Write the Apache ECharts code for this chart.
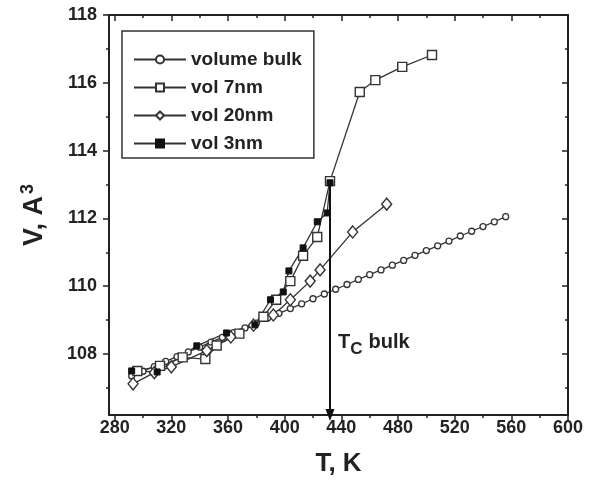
<!DOCTYPE html>
<html>
<head>
<meta charset="utf-8">
<script src="https://cdn.jsdelivr.net/npm/echarts@6/dist/echarts.min.js"></script>
<style>
  body { margin: 0; background: #fff; }
  #main { width: 592px; height: 482px; }
</style>
</head>
<body>
<div id="main"></div>
<script>
// data
const tempBulk = [292, 300, 308, 316, 324, 332, 340, 348, 356, 364, 372, 380, 388, 396, 404, 412, 420,
                  428, 436, 444, 452, 460, 468, 476, 484, 492, 500, 508, 516, 524, 532, 540, 548, 556];
const volBulk  = [107.35, 107.49, 107.63, 107.78, 107.92, 108.06, 108.20, 108.35, 108.49, 108.63, 108.77,
                  108.91, 109.06, 109.20, 109.34, 109.48, 109.63, 109.77, 109.91, 110.05, 110.20, 110.34,
                  110.48, 110.62, 110.76, 110.91, 111.05, 111.19, 111.33, 111.48, 111.62, 111.76, 111.90, 112.05];

const temp7nm = [296, 312, 328, 344, 352, 368, 385, 394, 404, 413, 423, 432, 453, 464, 483, 504];
const vol7nm  = [107.5, 107.65, 107.9, 107.85, 108.25, 108.6, 109.1, 109.6, 110.15, 110.9, 111.45, 113.1,
                 115.73, 116.08, 116.47, 116.82];

const temp20nm = [293, 308, 320, 345, 362, 378, 392, 404, 418, 425, 448, 472];
const vol20nm  = [107.12, 107.45, 107.62, 108.1, 108.5, 108.85, 109.15, 109.6, 110.15, 110.48, 111.6, 112.42];

const temp3nm = [292, 310, 338, 359, 379, 390, 399, 403, 413, 423, 430, 432];
const vol3nm  = [107.5, 107.47, 108.24, 108.62, 108.86, 109.6, 109.83, 110.45, 111.13, 111.9, 112.16, 113.05];

const tcBulk = 432;
const tcArrowTop = 113.1;

const xMajor = [280, 320, 360, 400, 440, 480, 520, 560, 600];
const xMinor = [300, 340, 380, 420, 460, 500, 540, 580];
const yMajor = [108, 110, 112, 114, 116, 118];
const yMinor = [107, 109, 111, 113, 115, 117];

const xMin = 276, xMax = 600, yMin = 106.2, yMax = 118;

function zip(a, b) { return a.map((v, i) => [v, b[i]]); }

const font = 'Liberation Sans, Arial, sans-serif';
const ink = '#222';

function xAx(pos, ticks, len, inside, extra) {
  return Object.assign({
    type: 'value', position: pos, min: xMin, max: xMax,
    axisLine: { show: true, onZero: false, lineStyle: { color: ink, width: 2 } },
    axisTick: { show: true, inside: inside, length: len, customValues: ticks, lineStyle: { color: ink, width: 1.5 } },
    axisLabel: { show: false },
    splitLine: { show: false }
  }, extra || {});
}
function yAx(pos, ticks, len, inside, extra) {
  return Object.assign({
    type: 'value', position: pos, min: yMin, max: yMax,
    axisLine: { show: true, onZero: false, lineStyle: { color: ink, width: 2 } },
    axisTick: { show: true, inside: inside, length: len, customValues: ticks, lineStyle: { color: ink, width: 1.5 } },
    axisLabel: { show: false },
    splitLine: { show: false }
  }, extra || {});
}

let myChart = echarts.init(document.getElementById('main'));
let lineSt = { color: '#333', width: 1.3 };

let option = {
  animation: false,
  backgroundColor: '#fff',
  textStyle: { fontFamily: font },
  grid: { left: 109, right: 24, top: 15, bottom: 67 },
  legend: {
    orient: 'vertical', left: 122, top: 31,
    padding: [19, 12, 5, 11],
    itemWidth: 52, itemHeight: 10, itemGap: 9,
    borderColor: '#333', borderWidth: 1.5,
    textStyle: { fontSize: 19, fontWeight: 'bold', color: ink, fontFamily: font },
    data: ['volume bulk', 'vol 7nm', 'vol 20nm', 'vol 3nm']
  },
  xAxis: [
    xAx('bottom', xMajor, 6, false, {
      name: 'T, K', nameLocation: 'middle', nameGap: 36,
      nameTextStyle: { fontSize: 26, fontWeight: 'bold', color: ink, fontFamily: font },
      axisLabel: { show: true, customValues: xMajor, margin: 4, fontSize: 18, fontWeight: 'bold', color: ink, fontFamily: font }
    }),
    xAx('bottom', xMinor, 3, false, { axisLine: { show: false, onZero: false } }),
    xAx('top', xMajor, 6, true),
    xAx('top', xMinor, 3, true, { axisLine: { show: false, onZero: false } })
  ],
  yAxis: [
    yAx('left', yMajor, 6, false, {
      name: 'V, A{sup|3}', nameLocation: 'middle', nameGap: 58,
      nameTextStyle: {
        fontSize: 27, fontWeight: 'bold', color: ink, fontFamily: font,
        rich: { sup: { fontSize: 18, fontWeight: 'bold', color: ink, fontFamily: font, verticalAlign: 'top', padding: [0, 0, 14, 2] } }
      },
      axisLabel: { show: true, customValues: yMajor, margin: 12, fontSize: 18, fontWeight: 'bold', color: ink, fontFamily: font }
    }),
    yAx('left', yMinor, 3, false, { axisLine: { show: false, onZero: false } }),
    yAx('right', yMajor, 6, true),
    yAx('right', yMinor, 3, true, { axisLine: { show: false, onZero: false } })
  ],
  series: [
    {
      name: 'volume bulk', type: 'line', data: zip(tempBulk, volBulk),
      symbol: 'circle', symbolSize: 6,
      itemStyle: { color: '#fff', borderColor: '#333', borderWidth: 1.3 },
      lineStyle: lineSt
    },
    {
      name: 'vol 7nm', type: 'line', data: zip(temp7nm, vol7nm),
      symbol: 'rect', symbolSize: 9,
      itemStyle: { color: '#fff', borderColor: '#333', borderWidth: 1.4 },
      lineStyle: lineSt
    },
    {
      name: 'vol 20nm', type: 'line', data: zip(temp20nm, vol20nm),
      symbol: 'diamond', symbolSize: [10, 12],
      itemStyle: { color: '#fff', borderColor: '#333', borderWidth: 1.4 },
      lineStyle: lineSt
    },
    {
      name: 'vol 3nm', type: 'line', data: zip(temp3nm, vol3nm),
      symbol: 'rect', symbolSize: 6,
      itemStyle: { color: '#111', borderColor: '#111', borderWidth: 1 },
      lineStyle: lineSt,
      markLine: {
        silent: true,
        symbol: ['none', 'triangle'], symbolSize: [9, 12],
        label: { show: false },
        lineStyle: { color: '#111', width: 2, type: 'solid' },
        data: [[{ coord: [tcBulk, tcArrowTop] }, { coord: [tcBulk, yMin] }]]
      }
    }
  ],
  graphic: [{
    type: 'text', left: 338, top: 332,
    style: {
      text: 'T{sub|C}bulk',
      font: 'bold 20px ' + font, fill: ink,
      rich: { sub: { font: 'bold 17px ' + font, fill: ink, padding: [14, 6, 0, 0] } }
    }
  }]
};
myChart.setOption(option);
</script>
</body>
</html>
